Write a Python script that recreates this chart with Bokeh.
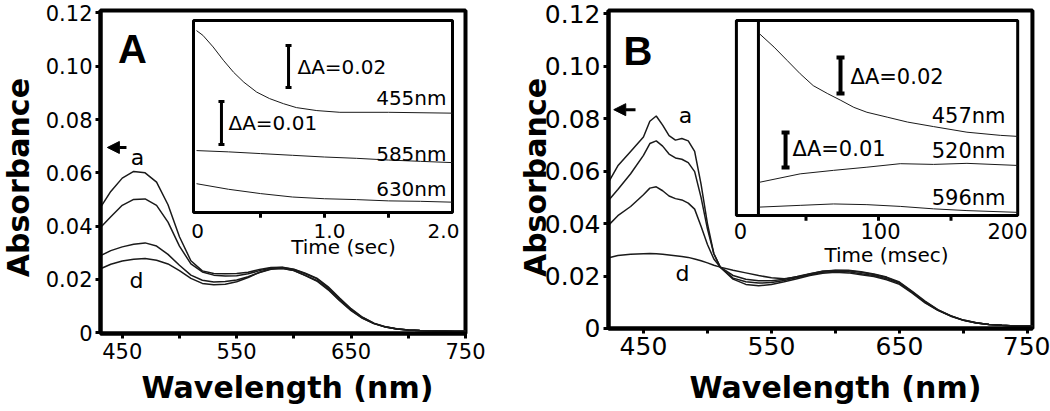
from math import pi
from bokeh.plotting import figure
from bokeh.models import Range1d, FixedTicker, Arrow, NormalHead, NumeralTickFormatter
from bokeh.layouts import row
from bokeh.embed import file_html
from bokeh.resources import INLINE
from bokeh.core.properties import value

# ---------------- Panel A : spectra ----------------
wl_A = [431, 440, 450, 460, 470, 480, 490, 500, 510, 520, 530, 540, 550, 560, 570, 580, 590,
        600, 610, 620, 630, 640, 650, 660, 670, 680, 690, 700, 710, 720, 730, 740, 750]
A_a = [0.0470, 0.0530, 0.0580, 0.0605, 0.0600, 0.0565, 0.0480, 0.0360, 0.0270, 0.0232, 0.0222,
       0.0221, 0.0222, 0.0227, 0.0237, 0.0245, 0.0246, 0.0238, 0.0223, 0.0205, 0.0172, 0.0130,
       0.0090, 0.0058, 0.0036, 0.0022, 0.0015, 0.0010, 0.0008, 0.0007, 0.0006, 0.0005, 0.0005]
A_b = [0.0395, 0.0435, 0.0478, 0.0500, 0.0502, 0.0478, 0.0415, 0.0325, 0.0258, 0.0228, 0.0216,
       0.0213, 0.0214, 0.0221, 0.0233, 0.0243, 0.0245, 0.0237, 0.0221, 0.0203, 0.0169, 0.0127,
       0.0088, 0.0057, 0.0035, 0.0022, 0.0014, 0.0010, 0.0008, 0.0007, 0.0006, 0.0005, 0.0005]
A_c = [0.0289, 0.0308, 0.0322, 0.0332, 0.0337, 0.0325, 0.0294, 0.0253, 0.0216, 0.0197, 0.0190,
       0.0192, 0.0198, 0.0210, 0.0226, 0.0238, 0.0241, 0.0233, 0.0215, 0.0196, 0.0164, 0.0122,
       0.0085, 0.0055, 0.0034, 0.0021, 0.0014, 0.0010, 0.0008, 0.0007, 0.0006, 0.0005, 0.0005]
A_d = [0.0240, 0.0257, 0.0269, 0.0276, 0.0278, 0.0272, 0.0258, 0.0233, 0.0204, 0.0185, 0.0180,
       0.0182, 0.0191, 0.0207, 0.0227, 0.0240, 0.0242, 0.0233, 0.0214, 0.0194, 0.0161, 0.0120,
       0.0083, 0.0054, 0.0034, 0.0021, 0.0014, 0.0010, 0.0008, 0.0007, 0.0006, 0.0005, 0.0005]

# ---------------- Panel A : inset kinetics (time in s) ----------------
tA_455 = [0, 0.05, 0.13, 0.21, 0.29, 0.37, 0.47, 0.57, 0.68, 0.78, 0.94, 1.12, 1.5, 2.0]
A_455 = [0.0423, 0.0412, 0.0385, 0.0354, 0.0326, 0.0303, 0.0280, 0.0265, 0.0253, 0.0244,
         0.0237, 0.0233, 0.0233, 0.0231]
tA_slow = [0, 0.25, 0.5, 0.75, 1.0, 1.25, 1.5, 1.75, 2.0]
A_585 = [0.0144, 0.0141, 0.0137, 0.0133, 0.0129, 0.0126, 0.0122, 0.0119, 0.0116]
A_630 = [0.0067, 0.0054, 0.0044, 0.0036, 0.0032, 0.0030, 0.0027, 0.0026, 0.0024]

# ---------------- Panel B : spectra ----------------
wl_B = [423, 430, 440, 450, 455, 460, 465, 470, 475, 480, 485, 490, 495, 500, 505, 510, 520,
        530, 540, 550, 560, 570, 580, 590, 600, 610, 620, 630, 640, 650, 660, 670, 680, 690,
        700, 710, 720, 730, 740, 754]
B_a = [0.056, 0.062, 0.0675, 0.073, 0.079, 0.081, 0.0775, 0.0735, 0.0718, 0.0724, 0.0715,
       0.0675, 0.055, 0.040, 0.0285, 0.0234, 0.0188, 0.0168, 0.0163, 0.0168, 0.0178, 0.019,
       0.0202, 0.0211, 0.0214, 0.0212, 0.0205, 0.0198, 0.0186, 0.0168, 0.0135, 0.0098,
       0.0069, 0.0047, 0.0031, 0.0021, 0.0015, 0.0012, 0.001, 0.001]
B_b = [0.049, 0.053, 0.059, 0.066, 0.0705, 0.0715, 0.0695, 0.0665, 0.065, 0.0645, 0.0632,
       0.0598, 0.050, 0.038, 0.0285, 0.0234, 0.0192, 0.0178, 0.0173, 0.0175, 0.0183, 0.0194,
       0.0205, 0.0214, 0.0217, 0.0216, 0.0209, 0.0202, 0.019, 0.0172, 0.0138, 0.0100,
       0.0070, 0.0048, 0.0031, 0.0021, 0.0015, 0.0012, 0.001, 0.001]
B_c = [0.0395, 0.043, 0.0465, 0.051, 0.0535, 0.054, 0.0525, 0.0505, 0.0495, 0.049, 0.0478,
       0.0455, 0.039, 0.032, 0.0265, 0.0234, 0.0202, 0.0188, 0.0182, 0.0182, 0.0188, 0.0198,
       0.0209, 0.0218, 0.0221, 0.022, 0.0214, 0.0206, 0.0194, 0.0175, 0.014, 0.0102,
       0.0071, 0.0048, 0.0032, 0.0022, 0.0015, 0.0012, 0.001, 0.001]
B_d = [0.027, 0.0278, 0.0283, 0.0285, 0.0286, 0.0285, 0.0283, 0.028, 0.0277, 0.0274, 0.0271,
       0.0265, 0.0258, 0.025, 0.0241, 0.0234, 0.0222, 0.0212, 0.0202, 0.0193, 0.019, 0.0196,
       0.0208, 0.0218, 0.0222, 0.0222, 0.0216, 0.0208, 0.0196, 0.0177, 0.0142, 0.0104,
       0.0072, 0.0049, 0.0032, 0.0022, 0.0015, 0.0012, 0.001, 0.001]

# ---------------- Panel B : inset kinetics (time in ms) ----------------
tB_457 = [18, 28, 37, 46, 55, 65, 74, 83, 92, 106, 120, 138, 161, 184, 196]
B_457 = [0.0519, 0.0481, 0.0443, 0.0405, 0.0371, 0.0348, 0.0329, 0.0309, 0.0295, 0.0281,
         0.0267, 0.0254, 0.0238, 0.0229, 0.0226]
tB_slow = [18, 46, 69, 92, 115, 138, 161, 196]
B_520 = [0.0095, 0.0119, 0.0129, 0.0138, 0.0148, 0.0146, 0.0149, 0.0143]
B_596 = [0.0024, 0.0029, 0.0033, 0.0031, 0.0026, 0.0019, 0.0014, 0.0009]

# ---------------- ticks / labels ----------------
x_ticks = [450, 550, 650, 750]
x_minor = [500, 600, 700]
y_ticks = [0, 0.02, 0.04, 0.06, 0.08, 0.10, 0.12]
y_tick_labels = ["0", "0.02", "0.04", "0.06", "0.08", "0.10", "0.12"]
insA_ticks = [0.5, 1.0, 1.5]
insA_label_at = [0, 1.0, 2.0]
insA_labels = ["0", "1.0", "2.0"]
insB_ticks = [50, 100, 150]
insB_label_at = [0, 100, 200]
insB_labels = ["0", "100", "200"]

FONT = "DejaVu Sans"
INK = "#1a1a1a"


def base(width, view_x, view_y, box_x, box_y, tick_size, x_std, y_std):
    """Figure whose plotting area fills the canvas; the axes sit at fixed data
    locations along the edges of the spectral box."""
    p = figure(width=width, height=411, x_range=Range1d(*view_x), y_range=Range1d(*view_y),
               min_border=0, output_backend="svg", toolbar_location=None)
    p.grid.visible = False
    p.outline_line_color = None
    p.xaxis.fixed_location = box_y[0]
    p.yaxis.fixed_location = box_x[0]
    p.xaxis.bounds = box_x
    p.yaxis.bounds = box_y
    p.xaxis.ticker = FixedTicker(ticks=x_ticks, minor_ticks=x_minor)
    p.yaxis.ticker = FixedTicker(ticks=y_ticks, minor_ticks=[])
    p.yaxis.formatter = NumeralTickFormatter(format="0.00")
    p.yaxis.major_label_overrides = {t: s for t, s in zip(y_ticks, y_tick_labels)}
    for ax in p.axis:
        ax.axis_line_width = 4
        ax.axis_line_color = "black"
        ax.major_tick_line_width = 3
        ax.major_tick_out = 5
        ax.major_tick_in = 0
        ax.minor_tick_line_width = 3
        ax.minor_tick_out = 5
        ax.minor_tick_in = 0
        ax.major_label_text_font = FONT
        ax.major_label_text_font_size = tick_size
        ax.major_label_text_color = "black"
    p.xaxis.major_label_standoff = x_std
    p.yaxis.major_label_standoff = y_std
    # the outer box of the spectrum panel
    p.quad(left=[box_x[0]], right=[box_x[1]], bottom=[box_y[0]], top=[box_y[1]],
           fill_color=None, line_color="black", line_width=4)
    return p


def titles(p, abs_xy, wl_xy):
    p.text(x=[abs_xy[0]], y=[abs_xy[1]], text=["Absorbance"], angle=pi / 2,
           text_font=value(FONT), text_font_style="bold", text_font_size=value("30px"),
           text_align="center", text_baseline="middle", text_color="black")
    p.text(x=[wl_xy[0]], y=[wl_xy[1]], text=["Wavelength (nm)"],
           text_font=value(FONT), text_font_style="bold", text_font_size=value("30px"),
           text_align="center", text_baseline="middle", text_color="black")


def scale_bar(p, xname, yname, x, y0, y1, cap, lw):
    p.segment(x0=[x, x - cap, x - cap], y0=[y0, y0, y1], x1=[x, x + cap, x + cap], y1=[y1, y0, y1],
              line_color="black", line_width=lw, x_range_name=xname, y_range_name=yname)


# =============== Panel A ===============
pA = base(512, (343.603, 791.077), (-0.029568, 0.124653), (431, 750), (-0.0003, 0.1209),
          "21px", 4, 3)
pA.extra_x_ranges = {"tA": Range1d(-1.53125, 2.46875)}
pA.extra_y_ranges = {"yA": Range1d(-0.046279, 0.049302)}

for ys in (A_a, A_b, A_c, A_d):
    pA.line(wl_A, ys, line_color=INK, line_width=1.5)

pA.quad(left=[-0.0234], right=[2.0], bottom=[0], top=[0.04465], fill_color="white",
        line_color="black", line_width=3, x_range_name="tA", y_range_name="yA")
for ts, ys in ((tA_455, A_455), (tA_slow, A_585), (tA_slow, A_630)):
    pA.line(ts, ys, line_color=INK, line_width=1, x_range_name="tA", y_range_name="yA")
pA.segment(x0=insA_ticks, y0=[0] * 3, x1=insA_ticks, y1=[-0.0012] * 3, line_color="black",
           line_width=3, x_range_name="tA", y_range_name="yA")
pA.text(x=insA_label_at, y=[-0.0042] * 3, text=insA_labels, x_offset=[1, 5, -9],
        text_font=value(FONT), text_font_size=value("20px"), text_align="center",
        text_baseline="middle", text_color="black", x_range_name="tA", y_range_name="yA")
pA.text(x=[1.148], y=[-0.0081], text=["Time (sec)"], text_font=value(FONT),
        text_font_size=value("20px"), text_align="center", text_baseline="middle",
        text_color="black", x_range_name="tA", y_range_name="yA")
pA.text(x=[1.953] * 3, y=[0.02674, 0.01372, 0.00558], text=["455nm", "585nm", "630nm"],
        text_font=value(FONT), text_font_size=value("20px"), text_align="right",
        text_baseline="middle", text_color="black", x_range_name="tA", y_range_name="yA")
pA.text(x=[0.789, 0.25], y=[0.03395, 0.02093], text=["ΔA=0.02", "ΔA=0.01"],
        text_font=value(FONT), text_font_size=value("20px"), text_align="left",
        text_baseline="middle", text_color="black", x_range_name="tA", y_range_name="yA")
scale_bar(pA, "tA", "yA", 0.719, 0.02907, 0.03884, 0.0234, 3)
scale_bar(pA, "tA", "yA", 0.195, 0.01581, 0.02581, 0.0234, 3)

pA.text(x=[459.0], y=[0.1063], text=["A"], text_font=value("Liberation Sans"),
        text_font_style="bold", text_font_size=value("40px"), text_align="center",
        text_baseline="middle", text_color="black")
pA.text(x=[463.3, 462.5], y=[0.0657, 0.0196], text=["a", "d"], text_font=value(FONT),
        text_font_size=value("22px"), text_align="center", text_baseline="middle",
        text_color="black")
pA.add_layout(Arrow(end=NormalHead(size=12, fill_color="black", line_color="black"),
                    x_start=453.7, y_start=0.0695, x_end=437.0, y_end=0.0695,
                    line_width=3, line_color="black"))
titles(pA, (359.3, 0.0582), (594.4, -0.02056))

# =============== Panel B ===============
pB = base(538, (347.7, 768.0125), (-0.031634, 0.125011), (422.7, 753.9), (0, 0.1212),
          "25px", 4, 3)
pB.extra_x_ranges = {"tB": Range1d(-152.414, 218.621)}
pB.extra_y_ranges = {"yB": Range1d(-0.056, 0.061429)}

for ys in (B_a, B_b, B_c, B_d):
    pB.line(wl_B, ys, line_color=INK, line_width=1.5)

pB.quad(left=[2], right=[196], bottom=[0], top=[0.05571], fill_color="white",
        line_color="black", line_width=3, x_range_name="tB", y_range_name="yB")
pB.segment(x0=[17.2], y0=[0], x1=[17.2], y1=[0.05571], line_color="black", line_width=3,
           x_range_name="tB", y_range_name="yB")
for ts, ys in ((tB_457, B_457), (tB_slow, B_520), (tB_slow, B_596)):
    pB.line(ts, ys, line_color=INK, line_width=1, x_range_name="tB", y_range_name="yB")
pB.segment(x0=insB_ticks, y0=[0] * 3, x1=insB_ticks, y1=[-0.0015] * 3, line_color="black",
           line_width=3, x_range_name="tB", y_range_name="yB")
pB.text(x=insB_label_at, y=[-0.0043] * 3, text=insB_labels, x_offset=[7, 2, -16],
        text_font=value(FONT), text_font_size=value("21px"), text_align="center",
        text_baseline="middle", text_color="black", x_range_name="tB", y_range_name="yB")
pB.text(x=[105.5], y=[-0.0114], text=["Time (msec)"], text_font=value(FONT),
        text_font_size=value("20px"), text_align="center", text_baseline="middle",
        text_color="black", x_range_name="tB", y_range_name="yB")
pB.text(x=[187.6] * 3, y=[0.02857, 0.01857, 0.00514], text=["457nm", "520nm", "596nm"],
        text_font=value(FONT), text_font_size=value("21px"), text_align="right",
        text_baseline="middle", text_color="black", x_range_name="tB", y_range_name="yB")
pB.text(x=[80.7, 40.7], y=[0.03943, 0.01914], text=["ΔA=0.02", "ΔA=0.01"],
        text_font=value(FONT), text_font_size=value("21px"), text_align="left",
        text_baseline="middle", text_color="black", x_range_name="tB", y_range_name="yB")
scale_bar(pB, "tB", "yB", 73.8, 0.03486, 0.04514, 2.76, 4)
scale_bar(pB, "tB", "yB", 35.9, 0.01371, 0.02371, 2.76, 4)

pB.text(x=[445.7], y=[0.1058], text=["B"], text_font=value("Liberation Sans"),
        text_font_style="bold", text_font_size=value("40px"), text_align="center",
        text_baseline="middle", text_color="black")
pB.text(x=[482.9, 480.5], y=[0.0811, 0.0208], text=["a", "d"], text_font=value(FONT),
        text_font_size=value("22px"), text_align="center", text_baseline="middle",
        text_color="black")
pB.add_layout(Arrow(end=NormalHead(size=12, fill_color="black", line_color="black"),
                    x_start=443.8, y_start=0.0834, x_end=426.8, y_end=0.0834,
                    line_width=3, line_color="black"))
titles(pB, (365.7, 0.05755), (600.05, -0.02233))

layout = row(pA, pB)
open("out.html", "w").write(file_html(layout, INLINE))
